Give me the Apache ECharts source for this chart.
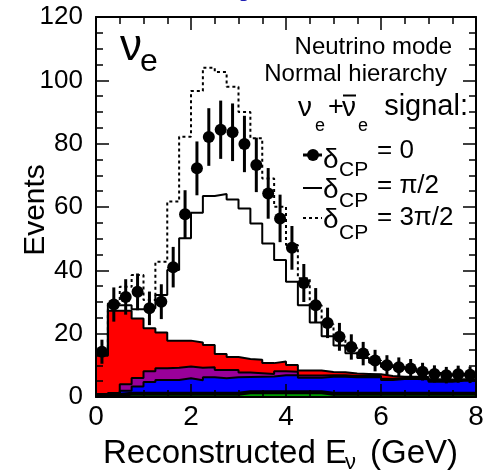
<!DOCTYPE html>
<html>
<head>
<meta charset="utf-8">
<script src="https://cdn.jsdelivr.net/npm/echarts@6/dist/echarts.min.js"></script>
<style>
  html, body { margin: 0; padding: 0; background: #fff; }
  #chart { width: 490px; height: 472px; }
</style>
</head>
<body>
<div id="chart"></div>
<script>
// low edge of each 0.25 GeV bin
const binLow = [0, 0.25, 0.5, 0.75, 1, 1.25, 1.5, 1.75, 2, 2.25, 2.5, 2.75, 3, 3.25, 3.5, 3.75,
  4, 4.25, 4.5, 4.75, 5, 5.25, 5.5, 5.75, 6, 6.25, 6.5, 6.75, 7, 7.25, 7.5, 7.75]
const binHalf = 0.125

// background stack, bottom to top (events per bin)
const greenBg = [0.6, 0.6, 1, 1, 1, 1, 1, 1, 1, 1, 1, 1, 1.5, 1.5, 1.5, 1.5,
  1.5, 1.5, 1.5, 1, 1, 1, 1, 1, 1, 1, 1, 1, 1, 1, 1, 1]
const blueBg = [0, 0, 1.0, 2.3, 3.7, 4.4, 4.4, 4.9, 4.3, 5.2, 4.9, 5.2, 4.8, 4.9, 5.0, 5.4,
  5.4, 4.6, 4.6, 5.4, 5.4, 5.2, 5.2, 5.2, 4.4, 4.7, 4.7, 4.6, 3.8, 3.8, 4.1, 4.1]
const purpleBg = [0, 0.7, 2.0, 2.7, 3.4, 3.7, 3.8, 3.7, 3.9, 3.2, 2.6, 2.3, 1.4, 1.1, 0.8, 1.2,
  1.1, 0.7, 0.7, 0.5, 0.5, 0.4, 0.4, 0.4, 0.4, 0.3, 0.3, 0.3, 0.3, 0.3, 0.3, 0.3]
const redBg = [12.4, 25.9, 23.2, 18.8, 13.6, 11.3, 8.6, 8.2, 8.0, 7.0, 5.1, 4.1, 4.3, 4.3, 3.4, 3.1,
  2.1, 1.6, 1.6, 1.0, 0.9, 0.8, 0.7, 0.6, 0.8, 0.4, 0.4, 0.4, 0.5, 0.4, 0.2, 0.2]

// total expectation, delta_CP = pi/2 (solid) and 3pi/2 (dotted)
const totPiHalf = [13.5, 29, 29, 27.7, 28, 32.2, 40.1, 50.1, 58.2, 63.5, 64.1, 62.4, 59.5, 54.8, 48.5, 43.3,
  36.4, 29, 23.5, 19.2, 16.3, 13.8, 12.3, 10.8, 9.5, 8.9, 8.5, 7.8, 7.2, 6.8, 6.9, 6.9]
const tot3PiHalf = [13.5, 29.5, 34.8, 38.5, 30.6, 42.7, 61.7, 82.2, 96.6, 104, 102.6, 98, 90, 81.7, 69, 60.1,
  48, 37.5, 29, 23, 19, 15.5, 13.5, 11.5, 10.2, 9.5, 9, 8.3, 7.6, 7.2, 7.3, 7.3]

// delta_CP = 0 points and their error bars
const ptsZero = [14.3, 29.2, 31.6, 33.2, 28, 30.1, 41, 57.7, 72.2, 82.1, 84.4, 83.6, 79.9, 73.3, 64.3, 56.4,
  47.1, 36, 29, 23.4, 19, 15.8, 13.7, 11.5, 10, 9.4, 9.0, 8.0, 7.3, 6.9, 7.2, 7.0]
const ptsErr = [3.8, 5.4, 5.6, 5.8, 5.3, 5.5, 6.4, 7.6, 8.5, 9.1, 9.2, 9.1, 8.9, 8.6, 8.0, 7.5,
  6.9, 6.0, 5.4, 4.8, 4.4, 4.0, 3.7, 3.4, 3.2, 3.1, 3.0, 2.8, 2.7, 2.6, 2.7, 2.6]

const FONT = '"Liberation Sans", Arial, Helvetica, sans-serif'

let myChart = echarts.init(document.getElementById('chart'))

// histogram as step line: each bin value held until next edge, closing at x=8
function stepData (vals) {
  let d = binLow.map((x, i) => [x, vals[i]])
  d.push([8, vals[vals.length - 1]])
  return d
}

// cumulative tops of the background stack (the stack option breaks with step lines)
let layers = [greenBg, blueBg, purpleBg, redBg]
let colors = ['#00a000', '#0000ff', '#990099', '#ff0000']
let names = ['green', 'blue', 'purple', 'red']
let running = binLow.map(() => 0)
let tops = layers.map(vals => {
  running = running.map((r, i) => r + vals[i])
  return running.slice()
})

// draw the biggest first so smaller ones sit on top
let bgSeries = []
for (let k = layers.length - 1; k >= 0; k--) {
  bgSeries.push({
    name: names[k],
    type: 'line',
    step: 'end',
    symbol: 'none',
    data: stepData(tops[k]),
    // the lowest layer has a heavier outline, it reads as a black band
    lineStyle: { color: '#000', width: k === 0 ? 4 : 2 },
    areaStyle: { color: colors[k], opacity: 1 },
    z: 2
  })
}

function txt (text, x, y, size, align, extra) {
  let st = Object.assign({
    text: text,
    x: x,
    y: y,
    fill: '#000',
    font: size + 'px ' + FONT,
    textAlign: align,
    textVerticalAlign: 'middle',
    align: align,
    verticalAlign: 'middle'
  }, extra || {})
  return { type: 'text', style: st, z: 20 }
}

function axisCommon (extra) {
  return Object.assign({
    type: 'value',
    z: 10,
    axisLine: { show: true, onZero: false, lineStyle: { color: '#000', width: 2 } },
    axisTick: { show: true, inside: true, length: 13, lineStyle: { color: '#000', width: 1.5 } },
    minorTick: { show: true, splitNumber: 4, length: 7, lineStyle: { color: '#000', width: 1.5 } },
    splitLine: { show: false }
  }, extra)
}

let option = {
  animation: false,
  backgroundColor: '#fff',
  grid: { left: 96, right: 14, top: 17, bottom: 75, containLabel: false },
  xAxis: [
    axisCommon({
      min: 0, max: 8, interval: 2, position: 'bottom',
      axisLabel: { fontSize: 28, color: '#000', fontFamily: FONT, margin: 6 }
    }),
    axisCommon({
      min: 0, max: 8, interval: 2, position: 'top',
      axisLabel: { show: false }
    })
  ],
  yAxis: [
    axisCommon({
      min: 0, max: 120, interval: 20, position: 'left',
      axisLabel: { fontSize: 26, color: '#000', fontFamily: FONT, margin: 13 }
    }),
    axisCommon({
      min: 0, max: 120, interval: 20, position: 'right',
      axisLabel: { show: false }
    })
  ],
  series: bgSeries.concat([
    {
      name: 'pi/2',
      type: 'line',
      step: 'end',
      symbol: 'none',
      data: stepData(totPiHalf),
      lineStyle: { color: '#000', width: 2 },
      z: 3
    },
    {
      name: '3pi/2',
      type: 'line',
      step: 'end',
      symbol: 'none',
      data: stepData(tot3PiHalf),
      lineStyle: { color: '#000', width: 2, type: [3, 3] },
      z: 3
    },
    {
      name: 'err',
      type: 'custom',
      data: binLow.map((x, i) => [x + binHalf, ptsZero[i], ptsErr[i]]),
      renderItem: function (params, api) {
        let a = api.coord([api.value(0), api.value(1) - api.value(2)])
        let b = api.coord([api.value(0), api.value(1) + api.value(2)])
        return {
          type: 'line',
          shape: { x1: a[0], y1: a[1], x2: b[0], y2: b[1] },
          style: { stroke: '#000', lineWidth: 3 }
        }
      },
      z: 5
    },
    {
      name: 'delta0',
      type: 'scatter',
      symbol: 'circle',
      symbolSize: 12,
      data: binLow.map((x, i) => [x + binHalf, ptsZero[i]]),
      itemStyle: { color: '#000', opacity: 1 },
      z: 6
    }
  ]),
  graphic: [
    // clipped title descender at the very top
    txt('y', 242, 1.5, 36, 'left', { fill: '#1f1fb4', font: 'italic bold 36px ' + FONT, verticalAlign: 'bottom', textVerticalAlign: 'bottom' }),
    // nu_e label
    txt('ν', 120, 48, 44, 'left'),
    txt('e', 140, 62, 32, 'left'),
    // legend block
    txt('Neutrino mode', 452, 47, 24, 'right'),
    txt('Normal hierarchy', 447, 74, 24, 'right'),
    txt('ν', 298, 108, 28, 'left'),
    txt('e', 315, 126, 18, 'left'),
    txt('+', 328, 108, 27, 'left'),
    txt('ν', 342, 108, 28, 'left'),
    { type: 'line', shape: { x1: 343, y1: 95.5, x2: 356, y2: 95.5 }, style: { stroke: '#000', lineWidth: 2 }, z: 20 },
    txt('e', 358, 126, 18, 'left'),
    txt('signal:', 468, 107, 29, 'right'),
    // delta_CP = 0
    { type: 'line', shape: { x1: 303, y1: 155, x2: 322, y2: 155 }, style: { stroke: '#000', lineWidth: 3 }, z: 20 },
    { type: 'circle', shape: { cx: 313, cy: 155, r: 6 }, style: { fill: '#000' }, z: 20 },
    txt('δ', 323, 160, 28, 'left'),
    txt('CP', 339, 170, 21, 'left'),
    txt('= 0', 377, 151, 26, 'left'),
    // delta_CP = pi/2
    { type: 'line', shape: { x1: 303, y1: 188, x2: 322, y2: 188 }, style: { stroke: '#000', lineWidth: 2 }, z: 20 },
    txt('δ', 323, 190, 28, 'left'),
    txt('CP', 339, 201, 21, 'left'),
    txt('= π/2', 377, 186, 26, 'left'),
    // delta_CP = 3pi/2
    { type: 'line', shape: { x1: 303, y1: 218, x2: 322, y2: 218 }, style: { stroke: '#000', lineWidth: 2, lineDash: [3, 3] }, z: 20 },
    txt('δ', 323, 220, 28, 'left'),
    txt('CP', 339, 233, 21, 'left'),
    txt('= 3π/2', 377, 218, 26, 'left'),
    // axis titles
    {
      type: 'text',
      x: 36,
      y: 210,
      rotation: Math.PI / 2,
      style: { text: 'Events', x: 0, y: 0, fill: '#000', font: '30px ' + FONT, textAlign: 'center', textVerticalAlign: 'middle', align: 'center', verticalAlign: 'middle' },
      z: 20
    },
    txt('Reconstructed E', 103, 453.5, 33, 'left'),
    txt('ν', 345, 463, 22, 'left'),
    txt('(GeV)', 370, 453.5, 33, 'left')
  ]
}

myChart.setOption(option, true)
</script>
</body>
</html>
